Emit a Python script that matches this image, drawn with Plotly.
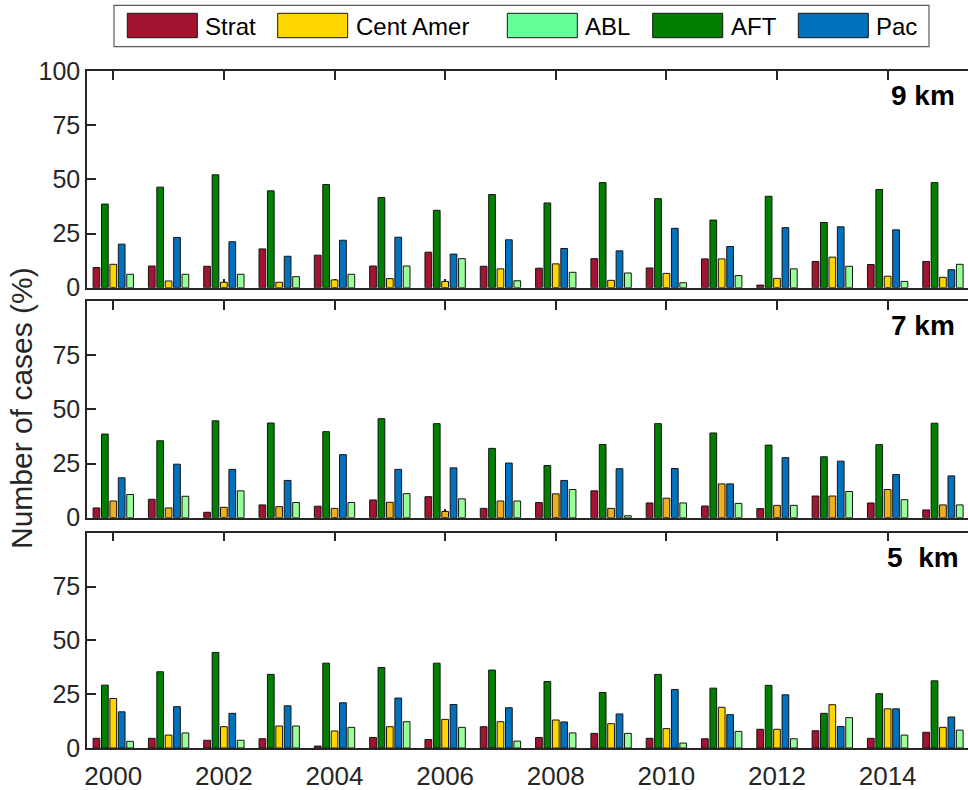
import plotly.graph_objects as go

# ---- data -------------------------------------------------------------
years = list(range(2000, 2016))
year_ticks = list(range(2000, 2016, 2))

# order of the bars inside each yearly group
group_order = ["Strat", "AFT", "Cent Amer", "Pac", "ABL"]
# order of the entries in the legend
legend_order = ["Strat", "Cent Amer", "ABL", "AFT", "Pac"]

panel_labels = ["9 km", "7 km", "5\u00a0\u00a0km"]

# 9 km
strat_9 = [9.3, 10.0, 9.9, 17.9, 15.0, 10.0, 16.4, 9.9, 9.0, 13.4, 9.1, 13.3, 1.2, 12.1, 10.7, 12.1]
cent_9 = [10.8, 3.1, 2.5, 2.5, 3.6, 4.2, 2.9, 8.7, 11.0, 3.4, 6.6, 13.3, 4.3, 14.1, 5.3, 4.8]
abl_9 = [6.2, 6.2, 6.2, 5.1, 6.2, 10.0, 13.4, 3.2, 7.1, 6.8, 2.3, 5.6, 8.7, 9.9, 2.9, 10.8]
aft_9 = [38.6, 46.4, 52.1, 44.7, 47.6, 41.6, 35.7, 43.0, 39.1, 48.5, 41.1, 31.2, 42.2, 30.1, 45.3, 48.5]
pac_9 = [20.1, 23.2, 21.2, 14.5, 21.9, 23.3, 15.5, 22.1, 18.1, 17.0, 27.4, 19.0, 27.7, 28.1, 26.7, 8.3]

# 7 km
strat_7 = [4.5, 8.5, 2.5, 5.9, 5.3, 8.2, 9.7, 4.3, 7.0, 12.4, 6.8, 5.4, 4.2, 10.0, 6.8, 3.6]
cent_7 = [7.7, 4.5, 4.8, 5.1, 4.3, 7.1, 2.9, 7.7, 11.0, 4.3, 9.0, 15.6, 5.7, 10.0, 13.0, 5.9]
abl_7 = [10.7, 9.9, 12.4, 7.0, 7.0, 11.1, 8.7, 7.7, 13.0, 0.9, 6.8, 6.6, 5.7, 12.1, 8.3, 5.9]
aft_7 = [38.6, 35.5, 44.7, 43.7, 39.7, 45.7, 43.4, 32.0, 24.1, 33.8, 43.4, 39.1, 33.5, 28.1, 33.7, 43.6]
pac_7 = [18.4, 24.7, 22.3, 17.2, 29.1, 22.3, 23.0, 25.2, 17.2, 22.6, 22.7, 15.6, 27.7, 26.1, 19.9, 19.3]

# 5 km
strat_5 = [4.5, 4.5, 3.6, 4.3, 0.9, 4.9, 3.9, 9.9, 4.9, 6.8, 4.5, 4.3, 8.7, 8.0, 4.5, 7.3]
cent_5 = [23.0, 6.0, 9.9, 10.2, 7.9, 9.9, 13.3, 12.2, 13.0, 11.3, 9.0, 18.9, 8.7, 20.1, 18.2, 9.6]
abl_5 = [3.1, 7.0, 3.6, 10.2, 9.6, 12.2, 9.6, 3.2, 7.0, 6.8, 2.3, 7.7, 4.3, 14.1, 6.0, 8.3]
aft_5 = [29.2, 35.4, 44.4, 34.2, 39.4, 37.4, 39.4, 36.2, 30.9, 25.8, 34.2, 27.8, 29.1, 16.1, 25.2, 31.2]
pac_5 = [16.8, 19.2, 16.1, 19.6, 21.0, 23.2, 20.2, 18.7, 12.1, 15.8, 27.2, 15.5, 24.7, 10.0, 18.2, 14.4]

panels = [
    {"Strat": strat_9, "Cent Amer": cent_9, "ABL": abl_9, "AFT": aft_9, "Pac": pac_9},
    {"Strat": strat_7, "Cent Amer": cent_7, "ABL": abl_7, "AFT": aft_7, "Pac": pac_7},
    {"Strat": strat_5, "Cent Amer": cent_5, "ABL": abl_5, "AFT": aft_5, "Pac": pac_5},
]

# ---- styling ----------------------------------------------------------
bar_colors = {
    "Strat": "#A2142F",
    "Cent Amer": "#FFD700",
    "ABL": "#99FF99",
    "AFT": "#007F00",
    "Pac": "#0072BD",
}
cent_amer_7km = "#EDB120"
legend_colors = dict(bar_colors, ABL="#66FF99")

FONT = "Liberation Sans, Arial, Helvetica, sans-serif"
AX = "#262626"

W, H = 968, 790
ML, MR, MT, MB = 87, 0, 71, 42
PW, PH = W - ML - MR, H - MT - MB


def fx(px):
    return (px - ML) / PW


def fy(py):
    return (H - MB - py) / PH


# pixel top/bottom of each panel
panel_px = [(71, 287.7), (301, 517.7), (532.7, 748)]

fig = go.Figure()

for i, data in enumerate(panels):
    sfx = "" if i == 0 else str(i + 1)
    for name in group_order:
        color = bar_colors[name]
        if i == 1 and name == "Cent Amer":
            color = cent_amer_7km
        fig.add_trace(go.Bar(
            x=years, y=data[name], name=name,
            xaxis="x" + sfx, yaxis="y" + sfx,
            marker=dict(color=color, line=dict(color="#141414", width=1)),
            showlegend=False,
        ))

layout = dict(
    width=W, height=H,
    margin=dict(l=ML, r=MR, t=MT, b=MB),
    paper_bgcolor="white", plot_bgcolor="white",
    barmode="group", bargap=0.24, bargroupgap=0.2,
    font=dict(family=FONT, color=AX, size=25),
    showlegend=False,
)

for i in range(3):
    sfx = "" if i == 0 else str(i + 1)
    top, bot = panel_px[i]
    layout["xaxis" + sfx] = dict(
        domain=[0, 1], anchor="y" + sfx,
        range=[1999.525, 2015.453],
        tickmode="array", tickvals=year_ticks,
        ticktext=[str(y) for y in year_ticks],
        showticklabels=(i == 2),
        ticks="inside", ticklen=9, tickwidth=1.5, tickcolor=AX,
        showline=True, linecolor=AX, linewidth=1.5, mirror="ticks",
        showgrid=False, zeroline=False, layer="below traces",
        tickfont=dict(size=26, color=AX, family=FONT),
        ticklabelstandoff=4,
    )
    yt = [0, 25, 50, 75, 100] if i == 0 else [0, 25, 50, 75]
    layout["yaxis" + sfx] = dict(
        domain=[fy(bot), fy(top)], anchor="x" + sfx,
        range=[0, 100],
        tickmode="array", tickvals=yt,
        ticks="inside", ticklen=9, tickwidth=1.5, tickcolor=AX,
        showline=True, linecolor=AX, linewidth=1.5, mirror=False,
        showgrid=False, zeroline=False,
        tickfont=dict(size=25, color=AX, family=FONT),
    )
    # tick marks along the right-hand edge of each panel
    layout["yaxis" + str(i + 4)] = dict(
        overlaying="y" + sfx, anchor="x" + sfx, side="right",
        range=[0, 100], tickmode="array", tickvals=[25, 50, 75],
        ticks="inside", ticklen=9, tickwidth=1.5, tickcolor=AX,
        showticklabels=False, showline=False, showgrid=False, zeroline=False,
    )

annotations = []
# altitude labels
label_px = [(957, 95), (957, 325), (961, 557)]
for (lx, ly), txt in zip(label_px, panel_labels):
    annotations.append(dict(
        x=fx(lx), y=fy(ly), xref="paper", yref="paper",
        xanchor="right", yanchor="middle", showarrow=False,
        text="<b>" + txt + "</b>",
        font=dict(size=28, color="black", family=FONT),
    ))

# shared y-axis title
annotations.append(dict(
    x=fx(22), y=fy(408), xref="paper", yref="paper",
    xanchor="center", yanchor="middle", showarrow=False, textangle=-90,
    text="Number of cases (%)",
    font=dict(size=30, color=AX, family=FONT),
))

# legend: boxed row of swatches above the panels
shapes = [dict(
    type="rect", xref="paper", yref="paper",
    x0=fx(114), x1=fx(929), y0=fy(46.7), y1=fy(5.3),
    line=dict(color="#5a5a5a", width=1.2), fillcolor="white", layer="above",
)]
swatch_left = {"Strat": 127.3, "Cent Amer": 277.7, "ABL": 507.3, "AFT": 652.7, "Pac": 798.3}
for name in legend_order:
    x0 = swatch_left[name]
    shapes.append(dict(
        type="rect", xref="paper", yref="paper",
        x0=fx(x0), x1=fx(x0 + 70), y0=fy(37.7), y1=fy(13.3),
        line=dict(color="#141414", width=1), fillcolor=legend_colors[name],
        layer="above",
    ))
    annotations.append(dict(
        x=fx(x0 + 76), y=fy(26), xref="paper", yref="paper",
        xanchor="left", yanchor="middle", showarrow=False,
        text=name, font=dict(size=24, color="black", family=FONT),
    ))

layout["annotations"] = annotations
layout["shapes"] = shapes
fig.update_layout(**layout)

fig.write_html("out.html")
